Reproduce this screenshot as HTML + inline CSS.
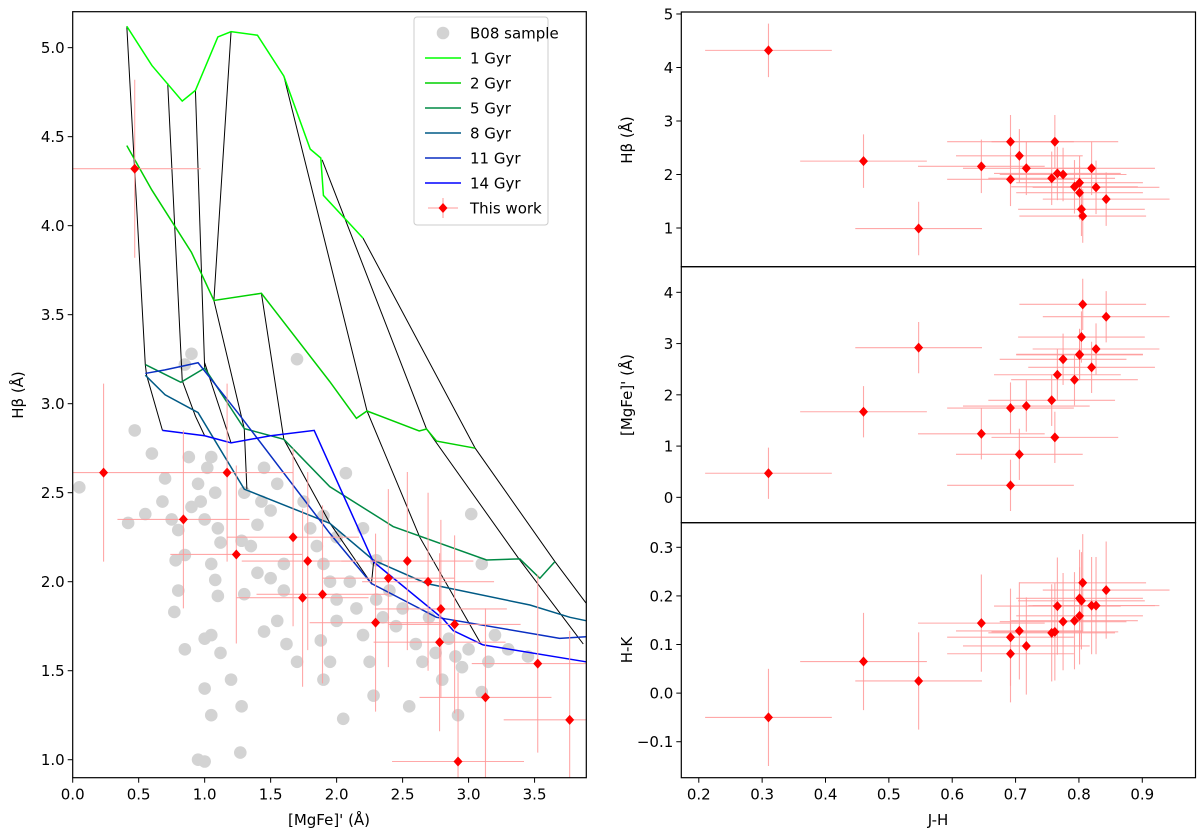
<!DOCTYPE html>
<html><head><meta charset="utf-8"><style>
html,body{margin:0;padding:0;background:#fff;}
svg{display:block;font-family:"DejaVu Sans","Liberation Sans",sans-serif;}
</style></head><body>
<svg id="fig" width="1200" height="837" viewBox="0 0 1200 837" xmlns="http://www.w3.org/2000/svg">
<defs>
<clipPath id="clipL"><rect x="72.7" y="11.7" width="513.6" height="766"/></clipPath>
<clipPath id="clipR1"><rect x="681.3" y="12" width="514.2" height="254.7"/></clipPath>
<clipPath id="clipR2"><rect x="681.3" y="266.7" width="514.2" height="256"/></clipPath>
<clipPath id="clipR3"><rect x="681.3" y="522.7" width="514.2" height="255"/></clipPath>
</defs>
</svg>
<script>
// ---- data ----
const jh = [0.31,0.46,0.547,0.646,0.692,0.692,0.706,0.717,0.762,0.757,0.766,0.775,0.793,0.801,0.801,0.804,0.806,0.820,0.827,0.843];
const hb = [4.32,2.25,0.99,2.153,2.613,1.91,2.35,2.116,2.613,1.929,2.02,2.0,1.77,1.847,1.66,1.35,1.224,2.116,1.76,1.54];
const mgfe = [0.47,1.67,2.92,1.24,0.234,1.742,0.839,1.781,1.17,1.893,2.392,2.693,2.295,2.79,2.78,3.128,3.766,2.536,2.894,3.524];
const hk = [-0.05,0.065,0.025,0.144,0.081,0.115,0.128,0.097,0.126,0.124,0.179,0.147,0.149,0.159,0.195,0.19,0.227,0.18,0.18,0.212];
const jhErr = 0.1, hbErr = 0.5, mgErr = 0.5, hkErr = 0.1;
const b08x = [0.05,0.42,0.55,0.47,0.6,0.7,0.68,0.75,0.8,0.78,0.77,0.85,0.8,0.85,0.9,0.95,0.88,0.9,0.85,0.97,1.0,1.02,1.05,1.08,1.1,1.12,1.05,1.08,1.1,1.05,1.0,1.12,1.0,1.05,0.95,1.0,1.2,1.28,1.3,1.35,1.4,1.43,1.5,1.55,1.45,1.3,1.28,1.4,1.5,1.6,1.6,1.55,1.45,1.62,1.7,1.27,1.7,1.75,1.8,1.85,1.9,1.95,2.0,2.0,1.88,1.95,1.9,2.05,2.07,2.1,2.15,2.2,2.25,2.28,2.3,2.35,2.4,2.45,2.5,2.55,2.6,2.65,2.7,2.75,2.8,2.85,2.9,2.92,2.95,3.0,3.02,3.1,3.1,3.15,3.2,3.3,3.45,2.0,1.9,2.3,2.2];
const b08y = [2.53,2.33,2.38,2.85,2.72,2.58,2.45,2.35,2.29,2.12,1.83,1.62,1.95,2.15,2.42,2.55,2.7,3.28,3.22,2.45,2.35,2.64,2.7,2.5,2.3,2.22,2.1,2.01,1.92,1.7,1.68,1.6,1.4,1.25,1.0,0.99,1.45,1.3,1.93,2.2,2.32,2.45,2.4,2.55,2.64,2.5,2.23,2.05,2.02,2.1,1.95,1.78,1.72,1.65,1.55,1.04,3.25,2.45,2.3,2.2,2.1,2.0,1.9,1.78,1.67,1.55,1.45,1.23,2.61,2.0,1.85,1.7,1.55,1.36,1.9,1.8,1.95,1.75,1.85,1.3,1.65,1.55,1.8,1.6,1.45,1.68,1.58,1.25,1.52,1.62,2.38,2.1,1.38,1.55,1.7,1.62,1.58,2.25,2.37,2.12,2.3];
const ageNames = ["1 Gyr","2 Gyr","5 Gyr","8 Gyr","11 Gyr","14 Gyr"];
const ageColors = ["#00ff00","#00d000","#008a45","#005a85","#0a2fc2","#0000ff"];
const age1x=[0.41,0.6,0.83,0.93,1.1,1.2,1.4,1.6,1.8,1.88,1.9,2.2];
const age1y=[5.12,4.9,4.70,4.76,5.06,5.09,5.07,4.84,4.43,4.38,4.17,3.93];
const age2x=[0.41,0.6,0.9,1.07,1.43,1.948,2.15,2.23,2.626,2.681,2.757,3.05];
const age2y=[4.45,4.2,3.85,3.58,3.62,3.124,2.918,2.959,2.847,2.858,2.79,2.75];
const age5x=[0.55,0.82,1.0,1.3,1.6,1.948,2.428,3.136,3.388,3.54,3.654];
const age5y=[3.22,3.12,3.2,2.86,2.8,2.534,2.31,2.122,2.128,2.019,2.113];
const age8x=[0.55,0.7,0.95,1.3,1.948,2.277,2.681,3.465,3.768,3.89];
const age8y=[3.16,3.05,2.95,2.52,2.328,2.122,1.99,1.869,1.80,1.781];
const age11x=[0.55,0.7,0.95,1.25,1.948,2.264,2.757,3.69,3.89];
const age11y=[3.17,3.19,3.23,2.95,2.272,1.99,1.80,1.682,1.691];
const age14x=[0.68,1.0,1.2,1.5,1.83,2.277,2.808,2.884,3.11,3.89];
const age14y=[2.85,2.82,2.78,2.82,2.85,2.113,1.79,1.725,1.645,1.55];
const metX=[[0.41,0.55,0.56,0.68],[0.72,0.83,0.93,1.0],[0.93,1.0,1.0,1.2],[1.2,1.07,1.3,1.32],[1.6,2.23,2.63,3.098],[1.89,2.68,3.38,3.869],[2.2,3.05,3.654,3.89],[1.43,1.6,1.948,2.264,2.28]];
const metY=[[5.12,3.22,3.16,2.85],[4.8,3.13,2.93,2.82],[4.76,3.2,3.23,2.78],[5.09,3.58,2.86,2.52],[4.84,2.96,2.25,1.645],[4.37,2.86,2.13,1.65],[3.93,2.75,2.113,1.88],[3.62,2.8,2.33,1.99,2.11]];
const xTicksL=[0,0.5,1,1.5,2,2.5,3,3.5];
const yTicksL=[1,1.5,2,2.5,3,3.5,4,4.5,5];
const xTicksR=[0.2,0.3,0.4,0.5,0.6,0.7,0.8,0.9];
const yTicksR1=[1,2,3,4,5];
const yTicksR2=[0,1,2,3,4];
const yTicksR3=[-0.1,0,0.1,0.2,0.3];

const NS="http://www.w3.org/2000/svg";
const svg=document.getElementById('fig');
function mk(tag,attrs,parent){const e=document.createElementNS(NS,tag);for(const k in attrs)e.setAttribute(k,attrs[k]);(parent||svg).appendChild(e);return e;}
function lin(d0,d1,p0,p1){return v=>p0+(v-d0)/(d1-d0)*(p1-p0);}

const xL=lin(0,3.892,72.7,586.3), yL=lin(0.899,5.202,777.7,11.7);
const xR=lin(0.1724,0.984,681.3,1195.5);
const yR1=lin(0.277,5.037,266.7,12), yR2=lin(-0.495,4.5,522.7,266.7), yR3=lin(-0.174,0.3506,777.7,522.7);

function fmt(v,d){let s=v.toFixed(d);return s.replace('-','\u2212');}

function yTicks(ticks,ys,x0,d,name){
  ticks.forEach(t=>{const y=ys(t);
    const tk=mk('line',{x1:x0-5,x2:x0,y1:y,y2:y,stroke:'#000','stroke-width':1});
    
    
    const tx=mk('text',{x:x0-8,y:y+5.5,'text-anchor':'end','font-size':15});
    tx.textContent=fmt(t,d);
    
    
  });
}
function xTicks(ticks,xs,y0,d,name){
  ticks.forEach(t=>{const x=xs(t);
    const tk=mk('line',{x1:x,x2:x,y1:y0,y2:y0+5,stroke:'#000','stroke-width':1});
    
    
    const tx=mk('text',{x:x,y:y0+22,'text-anchor':'middle','font-size':15});
    tx.textContent=fmt(t,d);
    
    
  });
}

const gL=mk('g',{'clip-path':'url(#clipL)'});


b08x.forEach((v,i)=>{
  const c=mk('circle',{cx:xL(v),cy:yL(b08y[i]),r:6.3,fill:'#d3d3d3'},gL);
  
  
});
const ageX=[age1x,age2x,age5x,age8x,age11x,age14x], ageY=[age1y,age2y,age5y,age8y,age11y,age14y];
metX.forEach((xs,i)=>{
  const p=mk('polyline',{points:xs.map((v,j)=>xL(v)+','+yL(metY[i][j])).join(' '),fill:'none',stroke:'#000','stroke-width':1},gL);
  
  
});
ageX.forEach((xs,i)=>{
  const p=mk('polyline',{points:xs.map((v,j)=>xL(v)+','+yL(ageY[i][j])).join(' '),fill:'none',stroke:ageColors[i],'stroke-width':1.5},gL);
  
  
});
function errPoints(g,xs,ys,xv,yv,xe,ye,name){
  xv.forEach((v,i)=>{
    const x=xs(v),y=ys(yv[i]);
    const h=mk('line',{x1:xs(v-xe),x2:xs(v+xe),y1:y,y2:y,stroke:'#ff9999','stroke-opacity':0.85,'stroke-width':1.1},g);
    
    
    const vv=mk('line',{x1:x,x2:x,y1:ys(yv[i]-ye),y2:ys(yv[i]+ye),stroke:'#ff9999','stroke-opacity':0.85,'stroke-width':1.1},g);
    
    
  });
  xv.forEach((v,i)=>{
    const x=xs(v),y=ys(yv[i]);
    const m=mk('polygon',{points:`${x},${y-5} ${x+4.5},${y} ${x},${y+5} ${x-4.5},${y}`,fill:'#ff0000'},g);
    
    
  });
}
errPoints(gL,xL,yL,mgfe,hb,mgErr,hbErr,'this-work');
const frL=mk('rect',{x:72.7,y:11.7,width:513.6,height:766,fill:'none',stroke:'#000','stroke-width':1.2});


xTicks(xTicksL,xL,777.7,1,'left-x');
yTicks(yTicksL,yL,72.7,1,'left-y');

const lg=mk('g',{});


const lb=mk('rect',{x:414,y:17,width:134,height:208,rx:3,fill:'#fff','fill-opacity':0.85,stroke:'#ccc','stroke-width':1},lg);


const legLabels=["B08 sample"].concat(ageNames).concat(["This work"]);
legLabels.forEach((t,i)=>{
  const y=33+i*25;
  if(i===0){const c=mk('circle',{cx:443,cy:y,r:6.3,fill:'#d3d3d3'},lg);
    
    }
  else if(i<=6){const l=mk('line',{x1:425,x2:461,y1:y,y2:y,stroke:ageColors[i-1],'stroke-width':1.5},lg);
    
    }
  else{
    const l=mk('line',{x1:428,x2:458,y1:y,y2:y,stroke:'#ff9999','stroke-width':1},lg);
    
    
    const l2=mk('line',{x1:443,x2:443,y1:y-10,y2:y+10,stroke:'#ff9999','stroke-width':1},lg);
    
    
    const m=mk('polygon',{points:`443,${y-5} 447.5,${y} 443,${y+5} 438.5,${y}`,fill:'#ff0000'},lg);
    
    
  }
  const tx=mk('text',{x:470,y:y+5.5,'font-size':15},lg);
  tx.textContent=t;
  
  
});

const panels=[[yR1,hb,hbErr,'clipR1',12,yTicksR1,0,'hbeta'],[yR2,mgfe,mgErr,'clipR2',266.7,yTicksR2,0,'mgfe'],[yR3,hk,hkErr,'clipR3',522.7,yTicksR3,1,'hk']];
panels.forEach(p=>{
  const g=mk('g',{'clip-path':'url('+'#'+p[3]+')'});
  
  
  errPoints(g,xR,p[0],jh,p[1],jhErr,p[2],p[7]);
  yTicks(p[5],p[0],681.3,p[6],p[7]+'-y');
});
[[12,266.7],[266.7,522.7],[522.7,777.7]].forEach((r,i)=>{
  const f=mk('rect',{x:681.3,y:r[0],width:514.2,height:r[1]-r[0],fill:'none',stroke:'#000','stroke-width':1.2});
  
  
});
xTicks(xTicksR,xR,777.7,1,'right-x');

function title(txt,x,y,rot,name){
  const t=mk('text',{x:x,y:y,'text-anchor':'middle','font-size':15});
  if(rot)t.setAttribute('transform',`rotate(-90 ${x} ${y})`);
  t.textContent=txt;
  
  
}
title("[MgFe]' (\u00c5)",329,825,false,'left-x-axis-title');
title("H\u03b2 (\u00c5)",23,395,true,'left-y-axis-title');
title("J-H",938,825,false,'right-x-axis-title');
title("H\u03b2 (\u00c5)",632,140,true,'hbeta-y-axis-title');
title("[MgFe]' (\u00c5)",632,395,true,'mgfe-y-axis-title');
title("H-K",632,650,true,'hk-y-axis-title');
</script>
</body></html>
